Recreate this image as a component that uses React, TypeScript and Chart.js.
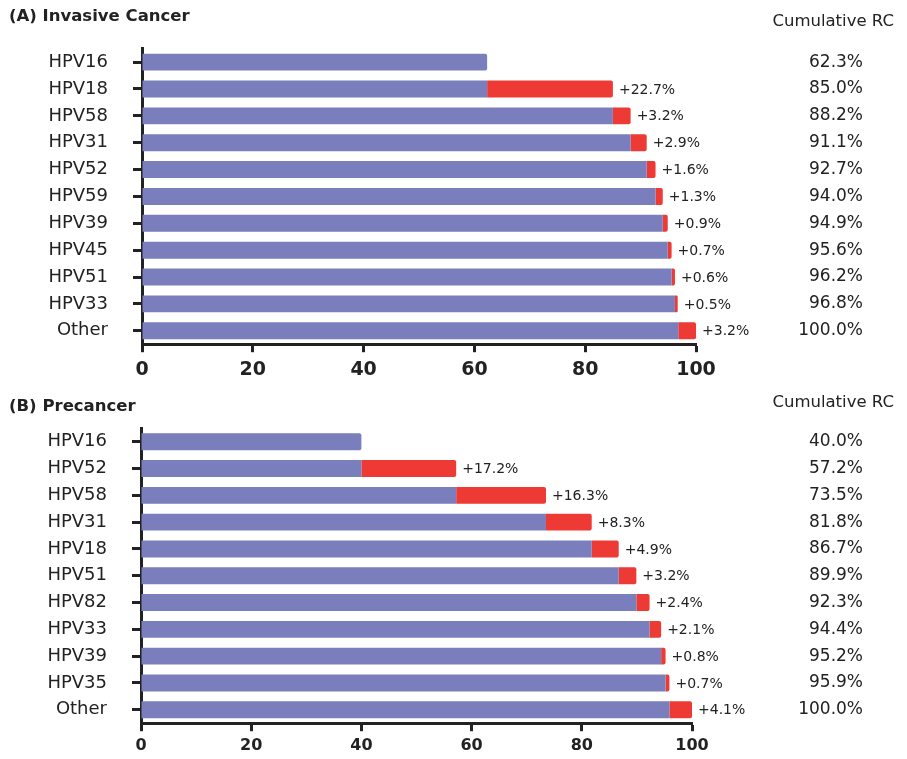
import React, { useEffect, useRef } from "react";
import { Chart, registerables } from "chart.js";

Chart.register(...registerables);

// ---------- Panel A: Invasive Cancer ----------
const catsA = ["HPV16", "HPV18", "HPV58", "HPV31", "HPV52", "HPV59", "HPV39", "HPV45", "HPV51", "HPV33", "Other"];
const baseA = [62.3, 62.3, 85.0, 88.2, 91.1, 92.7, 94.0, 94.9, 95.6, 96.2, 96.8];
const addA = [0, 22.7, 3.2, 2.9, 1.6, 1.3, 0.9, 0.7, 0.6, 0.5, 3.2];
const cumA = ["62.3%", "85.0%", "88.2%", "91.1%", "92.7%", "94.0%", "94.9%", "95.6%", "96.2%", "96.8%", "100.0%"];

// ---------- Panel B: Precancer ----------
const catsB = ["HPV16", "HPV52", "HPV58", "HPV31", "HPV18", "HPV51", "HPV82", "HPV33", "HPV39", "HPV35", "Other"];
const baseB = [40.0, 40.0, 57.2, 73.5, 81.8, 86.7, 89.9, 92.3, 94.4, 95.2, 95.9];
const addB = [0, 17.2, 16.3, 8.3, 4.9, 3.2, 2.4, 2.1, 0.8, 0.7, 4.1];
const cumB = ["40.0%", "57.2%", "73.5%", "81.8%", "86.7%", "89.9%", "92.3%", "94.4%", "95.2%", "95.9%", "100.0%"];

const xMin = 0;
const xMax = 100;
const xStep = 20;

const BLUE = "#7a7ebd";
const RED = "#ee3a35";
const INK = "#222222";
const FAMILY = '"DejaVu Sans", sans-serif';
const W = 907;

interface Panel {
  title: string;
  cats: string[];
  base: number[];
  add: number[];
  cum: string[];
  left: number;
  right: number;
  top: number;
  bottom: number;
  height: number;
  xFont: number;
  xPad: number;
  titleY: number;
  headerY: number;
}

const panelA: Panel = {
  title: "(A) Invasive Cancer",
  cats: catsA, base: baseA, add: addA, cum: cumA,
  left: 142, right: 696, top: 48.7, bottom: 348, height: 380,
  xFont: 19, xPad: 6, titleY: 17, headerY: 22,
};

const panelB: Panel = {
  title: "(B) Precancer",
  cats: catsB, base: baseB, add: addB, cum: cumB,
  left: 141, right: 692, top: 48.3, bottom: 349.5, height: 379,
  xFont: 16, xPad: 5, titleY: 27, headerY: 23,
};

function makeChart(canvas: HTMLCanvasElement, p: Panel) {
  const textPlugin = {
    id: "panelText",
    afterDatasetsDraw(chart: any) {
      const ctx = chart.ctx as CanvasRenderingContext2D;
      const meta = chart.getDatasetMeta(1);
      ctx.save();
      ctx.fillStyle = INK;
      ctx.textBaseline = "middle";
      ctx.textAlign = "left";
      ctx.font = `14px ${FAMILY}`;
      p.add.forEach((v, i) => {
        if (v <= 0) return;
        const el = meta.data[i];
        ctx.fillText(`+${v.toFixed(1)}%`, el.x + 6, el.y + 1);
      });
      ctx.font = `bold 16.5px ${FAMILY}`;
      ctx.fillText(p.title, 9, p.titleY);
      ctx.font = `16.5px ${FAMILY}`;
      ctx.textAlign = "right";
      ctx.fillText("Cumulative RC", 894, p.headerY);
      ctx.restore();
    },
  };

  return new Chart(canvas, {
    type: "bar",
    data: {
      labels: p.cats,
      datasets: [
        {
          data: p.base,
          backgroundColor: BLUE,
          borderWidth: 0,
          borderRadius: 2,
          barPercentage: 0.63,
          categoryPercentage: 1,
        },
        {
          data: p.add,
          backgroundColor: RED,
          borderWidth: 0,
          borderRadius: 2,
          barPercentage: 0.63,
          categoryPercentage: 1,
        },
      ],
    },
    options: {
      animation: false,
      responsive: false,
      indexAxis: "y",
      layout: { padding: { left: 0, right: 44, top: p.top, bottom: 0 } },
      plugins: {
        legend: { display: false },
        tooltip: { enabled: false },
        title: { display: false },
      },
      scales: {
        x: {
          type: "linear",
          stacked: true,
          min: xMin,
          max: xMax,
          position: "bottom",
          ticks: {
            stepSize: xStep,
            font: { size: p.xFont, weight: "bold", family: FAMILY },
            color: INK,
            padding: p.xPad,
            maxRotation: 0,
          },
          grid: {
            drawOnChartArea: false,
            drawTicks: true,
            tickLength: 8,
            tickColor: INK,
            tickWidth: 3,
          },
          border: { display: true, color: INK, width: 3 },
          afterFit: (s: any) => {
            s.height = p.height - p.bottom;
          },
        },
        y: {
          type: "category",
          stacked: true,
          position: "left",
          offset: true,
          ticks: {
            font: { size: 18, family: FAMILY },
            color: INK,
            padding: 25,
            autoSkip: false,
          },
          grid: {
            drawOnChartArea: false,
            drawTicks: true,
            tickLength: 9,
            tickColor: INK,
            tickWidth: 3,
            offset: false,
          },
          border: { display: true, color: INK, width: 3 },
          afterFit: (s: any) => {
            s.width = p.left;
          },
        },
        y2: {
          type: "category",
          labels: p.cum,
          position: "right",
          offset: true,
          ticks: {
            font: { size: 17, family: FAMILY },
            color: INK,
            crossAlign: "far",
            autoSkip: false,
          },
          grid: { display: false },
          border: { display: false },
          afterFit: (s: any) => {
            s.width = 863 - p.right;
          },
        },
      },
    } as any,
    plugins: [textPlugin],
  });
}

export default function App() {
  const refA = useRef<HTMLCanvasElement>(null);
  const refB = useRef<HTMLCanvasElement>(null);

  useEffect(() => {
    document.body.style.margin = "0";
    document.body.style.background = "#ffffff";
    Chart.defaults.font.family = FAMILY;
    const a = makeChart(refA.current!, panelA);
    const b = makeChart(refB.current!, panelB);
    return () => {
      a.destroy();
      b.destroy();
    };
  }, []);

  return (
    <div style={{ width: W, height: 759, background: "#fff" }}>
      <canvas ref={refA} width={W} height={panelA.height} style={{ display: "block" }} />
      <canvas ref={refB} width={W} height={panelB.height} style={{ display: "block" }} />
    </div>
  );
}
